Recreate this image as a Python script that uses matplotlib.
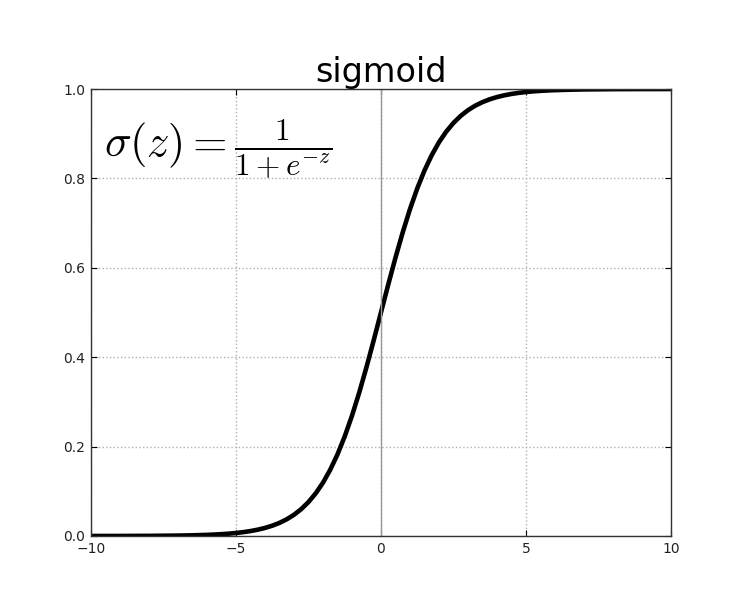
import matplotlib
matplotlib.use("Agg")
import matplotlib.pyplot as plt

x_vals = [-10, -9.5, -9, -8.5, -8, -7.5, -7, -6.5, -6,
          -5.75, -5.5, -5.25, -5, -4.75, -4.5, -4.25, -4, -3.75, -3.5, -3.25, -3,
          -2.75, -2.5, -2.25, -2, -1.75, -1.5, -1.25, -1, -0.75, -0.5, -0.25, 0,
          0.25, 0.5, 0.75, 1, 1.25, 1.5, 1.75, 2, 2.25, 2.5, 2.75, 3,
          3.25, 3.5, 3.75, 4, 4.25, 4.5, 4.75, 5, 5.25, 5.5, 5.75, 6,
          6.5, 7, 7.5, 8, 8.5, 9, 9.5, 10]
y_vals = [0.0000, 0.0001, 0.0001, 0.0002, 0.0003, 0.0006, 0.0009, 0.0015, 0.0025,
          0.0032, 0.0041, 0.0052, 0.0067, 0.0086, 0.0110, 0.0141, 0.0180, 0.0230, 0.0293, 0.0373, 0.0474,
          0.0601, 0.0759, 0.0954, 0.1192, 0.1481, 0.1824, 0.2227, 0.2689, 0.3208, 0.3775, 0.4378, 0.5000,
          0.5622, 0.6225, 0.6792, 0.7311, 0.7773, 0.8176, 0.8519, 0.8808, 0.9046, 0.9241, 0.9399, 0.9526,
          0.9627, 0.9707, 0.9770, 0.9820, 0.9859, 0.9890, 0.9914, 0.9933, 0.9948, 0.9959, 0.9968, 0.9975,
          0.9985, 0.9991, 0.9994, 0.9997, 0.9998, 0.9999, 0.9999, 1.0000]
x_ticks = [-10, -5, 0, 5, 10]
y_ticks = [0.0, 0.2, 0.4, 0.6, 0.8, 1.0]
title = "sigmoid"
formula = r"$\sigma(z)=\frac{1}{1+e^{-z}}$"

plt.rcParams["mathtext.fontset"] = "cm"
fig = plt.figure(figsize=(7.36, 6.04), dpi=100)
ax = fig.add_axes([0.1236, 0.1126, 0.788, 0.7400])
ax.plot(x_vals, y_vals, color="black", lw=3.3, solid_capstyle="butt", solid_joinstyle="round")
ax.axvline(0, color="#999999", lw=1)
ax.set_xlim(-10, 10)
ax.set_ylim(0, 1)
ax.set_xticks(x_ticks)
ax.set_yticks(y_ticks)
ax.set_xticklabels(["\u2212" + str(abs(v)) if v < 0 else str(v) for v in x_ticks])
ax.set_yticklabels([f"{v:.1f}" for v in y_ticks])
ax.grid(True, linestyle=":", color="#b0b0b0", lw=1)
ax.tick_params(direction="in", top=True, right=True, labelsize=10, length=4, pad=4,
               labelcolor="#222222")
for s in ax.spines.values():
    s.set_color("#333333")
    s.set_linewidth(1)
ax.set_title(title, fontsize=24, pad=5)
ax.text(0.022, 0.866, formula, transform=ax.transAxes, fontsize=32, va="center", ha="left")
fig.savefig("out.png", dpi=100)
